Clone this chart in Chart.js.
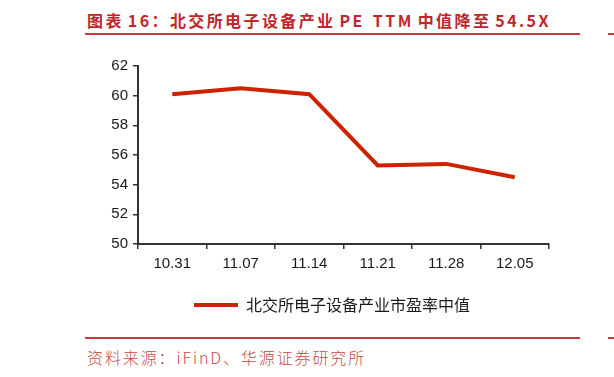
<!DOCTYPE html>
<html><head><meta charset="utf-8">
<script src="https://cdn.jsdelivr.net/npm/chart.js@4/dist/chart.umd.min.js"></script>
<style>
html,body{margin:0;padding:0;background:#fff;width:614px;height:377px;overflow:hidden;position:relative;}
#title{position:absolute;left:87px;top:8px;font-family:"Noto Sans CJK SC";font-weight:700;font-size:16px;color:#c0262c;white-space:nowrap;letter-spacing:2.4px;word-spacing:2px;line-height:24px;}
#title .l{margin-left:4px;}
#title .lr{margin:0 4px;}
.rl{position:absolute;height:2px;background:#c6383d;}
#src{position:absolute;left:87px;top:347px;font-family:"Noto Sans CJK SC";font-weight:300;font-size:16px;color:#c44a4e;white-space:nowrap;letter-spacing:1.9px;line-height:20px;}
#wrap{position:absolute;left:0;top:0;width:614px;height:377px;}
</style></head>
<body>
<div id="title">图表<span class="l">16</span>：北交所电子设备产业<span class="lr">PE TTM</span>中值降至<span class="l">54.5X</span></div>
<div class="rl" style="left:85px;width:495px;top:33px;"></div>
<div class="rl" style="left:608px;width:6px;top:33px;"></div>
<div class="rl" style="left:85px;width:495px;top:337px;"></div>
<div class="rl" style="left:608px;width:6px;top:337px;"></div>
<div id="src">资料来源：iFinD、华源证券研究所</div>
<div id="wrap"><canvas id="c" width="614" height="377"></canvas></div>
<script>
const categories = ["10.31","11.07","11.14","11.21","11.28","12.05"];
const seriesName = "北交所电子设备产业市盈率中值";
const peMedian = [60.1, 60.5, 60.1, 55.3, 55.4, 54.5];
const yTicks = [50,52,54,56,58,60,62];

const axisColor = "#333333";
const legendShift = {
  id: "legendShift",
  afterLayout(chart) { if (chart.legend) { chart.legend.left += 115; } }
};
new Chart(document.getElementById("c"), {
  type: "line",
  data: {
    labels: categories,
    datasets: [{
      label: seriesName,
      data: peMedian,
      borderColor: "#cc2200",
      backgroundColor: "#cc2200",
      borderWidth: 4,
      pointRadius: 0,
      tension: 0,
      fill: false
    }]
  },
  plugins: [legendShift],
  options: {
    responsive: false,
    animation: false,
    devicePixelRatio: 1,
    layout: { padding: { left: 0, right: 65, top: 66, bottom: 54 } },
    plugins: {
      tooltip: { enabled: false },
      legend: {
        position: "bottom",
        labels: {
          usePointStyle: true,
          pointStyle: "line",
          pointStyleWidth: 44,
          boxHeight: 4,
          color: "#1a1a1a",
          font: { family: "'Noto Sans CJK SC'", size: 16 },
          padding: 10
        }
      }
    },
    scales: {
      x: {
        offset: true,
        grid: { offset: true, drawOnChartArea: false, drawTicks: true, tickLength: 5, color: axisColor, lineWidth: 1.5 },
        border: { color: axisColor, width: 2 },
        ticks: { color: "#1a1a1a", font: { family: "'Liberation Sans'", size: 15 }, padding: 6, maxRotation: 0 },
        afterFit: (s) => { s.height = 43; }
      },
      y: {
        min: 50, max: 62,
        afterBuildTicks: (s) => { s.ticks = yTicks.map(v => ({ value: v })); },
        grid: { drawOnChartArea: false, drawTicks: true, tickLength: 5, color: axisColor, lineWidth: 1.5 },
        border: { color: axisColor, width: 2 },
        ticks: { color: "#1a1a1a", font: { family: "'Liberation Sans'", size: 15 }, padding: 5 },
        afterFit: (s) => { s.width = 138; }
      }
    }
  }
});
</script>
</body></html>
